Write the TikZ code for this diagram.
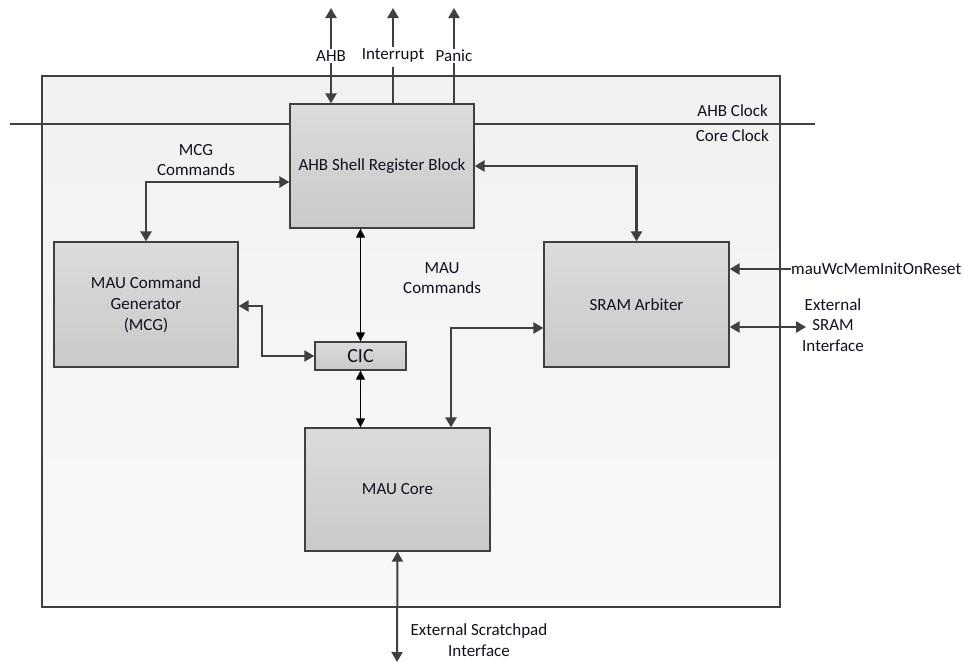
\documentclass[tikz,border=0pt]{standalone}
\usepackage{fontspec}
\setmainfont{Carlito}
\usetikzlibrary{arrows.meta,calc}
\definecolor{ln}{HTML}{404040}
\definecolor{txt}{HTML}{101020}
\tikzset{
  blk/.style={draw=ln, line width=1.3pt, top color=gray!28, bottom color=gray!42, inner sep=0pt, align=center, text=txt, font=\fontsize{17}{21}\selectfont},
  lbl/.style={text=txt, font=\fontsize{17}{20.5}\selectfont, align=center, inner sep=1pt},
  thk/.style={draw=ln, line width=2.8pt, -{Triangle[length=10pt,width=11pt]}},
  thkb/.style={draw=ln, line width=2.8pt, {Triangle[length=10pt,width=11pt]}-{Triangle[length=10pt,width=11pt]}},
  thn/.style={draw=black, line width=1.3pt, {Triangle[length=9pt,width=9pt]}-{Triangle[length=9pt,width=9pt]}},
  mid/.style={draw=ln, line width=2.2pt, {Triangle[length=10pt,width=11pt]}-{Triangle[length=10pt,width=11pt]}},
}
\begin{document}
\begin{tikzpicture}[x=1pt,y=-1pt]
\useasboundingbox (0,0) rectangle (963,662);
% outer box
\node[draw=ln, line width=1.3pt, top color=gray!11, bottom color=gray!5, minimum width=738pt, minimum height=531pt, inner sep=0pt] (outer) at (411,341.5) {};
% clock line
\coordinate (cl1) at (10,124);
\coordinate (cl2) at (815,124);
\draw[ln, line width=1.3pt] (cl1) -- (cl2);
\node[lbl, anchor=east] (ahbclk) at (769,111) {AHB Clock};
\node[lbl, anchor=east] (coreclk) at (770,136) {Core Clock};
% blocks
\node[blk, minimum width=184pt, minimum height=124pt] (ahb) at (382,166) {AHB Shell Register Block};
\node[blk, minimum width=184pt, minimum height=125pt] (mcg) at (146,304.5) {MAU Command\\Generator\\(MCG)};
\node[blk, minimum width=185pt, minimum height=125pt] (sram) at (636.5,304.5) {SRAM Arbiter};
\node[blk, minimum width=91pt, minimum height=28pt, font=\fontsize{20}{22}\selectfont] (cic) at (360.5,356) {CIC};
\node[blk, minimum width=185pt, minimum height=123pt] (core) at (397.5,489.5) {MAU Core};
% top signals
\node[lbl] (lahb) at (331,56) {AHB};
\node[lbl] (lint) at (393,55) {Interrupt};
\node[lbl] (lpan) at (454,56) {Panic};
\coordinate (tahb) at (331,8);
\coordinate (tint) at (393,8);
\coordinate (tpan) at (454,8);
\draw[thk, line width=2.4pt] (lahb.north) -- (tahb);
\draw[thk, line width=2.4pt] (lint.north) -- (tint);
\draw[thk, line width=2.4pt] (lpan.north) -- (tpan);
\draw[thk, line width=2.4pt] (lahb.south) -- (lahb.south |- ahb.north);
\draw[ln, line width=2.4pt] ([yshift=-4pt]lint.south) -- (lint.south |- ahb.north);
\draw[ln, line width=2.4pt] (lpan.south) -- (lpan.south |- ahb.north);
% MCG commands
\draw[thkb] (mcg.north) |- ([yshift=-16pt]ahb.west);
\node[lbl] (lmcg) at (196,160) {MCG\\Commands};
% AHB to SRAM
\draw[thkb] (ahb.east) -| (sram.north);
% MAU commands
\draw[thn] (ahb.south -| cic.north) -- (cic.north);
\node[lbl, anchor=west] (lmau) at (402,278) {MAU\\Commands};
% MCG to CIC
\coordinate (mcgbend) at (262,303);
\draw[mid] ([yshift=-1.5pt]mcg.east) -| (mcgbend |- cic.west) -- (cic.west);
% CIC to core
\draw[thn] (cic.south) -- (cic.south |- core.north);
% SRAM to core
\coordinate (scbend) at (451,328);
\draw[thkb] ([yshift=-23.5pt]sram.west) -| (scbend |- core.north);
% mauWcMemInitOnReset
\node[lbl, anchor=west, inner sep=0pt] (lreset) at (791,269) {mauWcMemInitOnReset};
\draw[thk] (lreset.west) -- (lreset.west -| sram.east);
% External SRAM
\node[lbl] (lext) at (833,325) {External\\SRAM\\Interface};
\coordinate (extend) at (806,327);
\draw[thkb] ([yshift=-22.5pt]sram.east) -- (extend);
% scratchpad
\coordinate (spend) at (397,662);
\draw[thkb, line width=2pt] (core.south) -- (spend);
\node[lbl] (lsp) at (479,640) {External Scratchpad\\Interface};
\end{tikzpicture}
\end{document}
